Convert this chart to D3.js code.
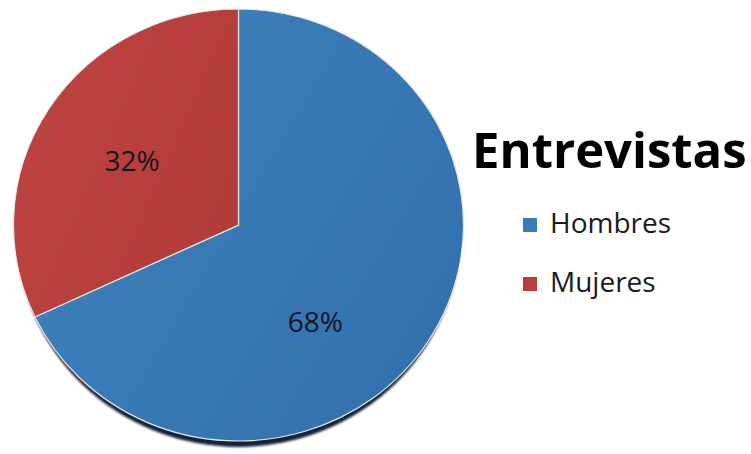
<!DOCTYPE html>
<html>
<head>
<meta charset="utf-8">
<script src="https://cdn.jsdelivr.net/npm/d3@7/dist/d3.min.js"></script>
<style>
  html, body { margin: 0; padding: 0; background: #fff; }
  svg { display: block; }
</style>
</head>
<body>
<div id="chart"></div>
<script>
// chart data
const categories = ["Hombres", "Mujeres"];
const values = [68, 32];
const title = "Entrevistas";

const width = 751, height = 454;
const colors = ["#3a7ab6", "#b93f3c"];

// pie geometry (slightly squashed vertically like the original)
const cx = 238.5, cy = 225, r = 225, yScale = 0.96;

const svg = d3.select("#chart").append("svg")
    .attr("width", width)
    .attr("height", height);

const defs = svg.append("defs");

// soft lighting across each slice
const grads = [["#3f82bd", "#3270ad"], ["#bd4441", "#b23a37"]];
grads.forEach((g, i) => {
    const lg = defs.append("linearGradient")
        .attr("id", "grad" + i)
        .attr("x1", "0%").attr("y1", "20%")
        .attr("x2", "100%").attr("y2", "80%");
    lg.append("stop").attr("offset", "0%").attr("stop-color", g[0]);
    lg.append("stop").attr("offset", "100%").attr("stop-color", g[1]);
});

defs.append("filter").attr("id", "blur")
    .append("feGaussianBlur").attr("stdDeviation", 1);

const pie = d3.pie().sort(null).value(d => d)(values);
const arc = d3.arc().innerRadius(0).outerRadius(r);

// shadow under the pie
svg.append("ellipse")
    .attr("cx", cx).attr("cy", cy + 6)
    .attr("rx", r - 3).attr("ry", r * yScale)
    .attr("fill", "#13203a")
    .attr("filter", "url(#blur)");

const g = svg.append("g")
    .attr("transform", `translate(${cx},${cy}) scale(1,${yScale})`);

g.selectAll("path")
    .data(pie)
    .join("path")
    .attr("d", arc)
    .attr("fill", (d, i) => `url(#grad${i})`)
    .attr("stroke", "#e8e8e8")
    .attr("stroke-width", 1.2)
    .attr("vector-effect", "non-scaling-stroke");

// percentage labels (excel's best fit pushes the big one a bit lower)
const labelR = 126;
const labelShift = d => d.index === 0 ? 20 * Math.PI / 180 : 0;
function labelPos(d) {
    const a = (d.startAngle + d.endAngle) / 2 + labelShift(d);
    return [cx + labelR * Math.sin(a), cy - labelR * Math.cos(a) * yScale];
}

svg.selectAll("text.pct")
    .data(pie)
    .join("text")
    .attr("class", "pct")
    .attr("x", d => labelPos(d)[0])
    .attr("y", d => labelPos(d)[1])
    .attr("text-anchor", "middle")
    .attr("dominant-baseline", "central")
    .attr("font-family", "'Open Sans', sans-serif")
    .attr("font-size", 28)
    .attr("fill", "#111822")
    .text(d => d.data + "%");

// title
svg.append("text")
    .attr("x", 472)
    .attr("y", 168)
    .attr("font-family", "'Open Sans', sans-serif")
    .attr("font-weight", "bold")
    .attr("font-size", 49)
    .attr("fill", "#000")
    .text(title);

// legend
const legend = svg.selectAll("g.entry")
    .data(categories)
    .join("g")
    .attr("class", "entry")
    .attr("transform", (d, i) => `translate(523,${218 + i * 59})`);

legend.append("rect")
    .attr("width", 14).attr("height", 14)
    .attr("fill", (d, i) => colors[i]);

legend.append("text")
    .attr("x", 27)
    .attr("y", 15)
    .attr("font-family", "'Open Sans', sans-serif")
    .attr("font-size", 28)
    .attr("fill", "#1a1a1a")
    .text(d => d);
</script>
</body>
</html>
